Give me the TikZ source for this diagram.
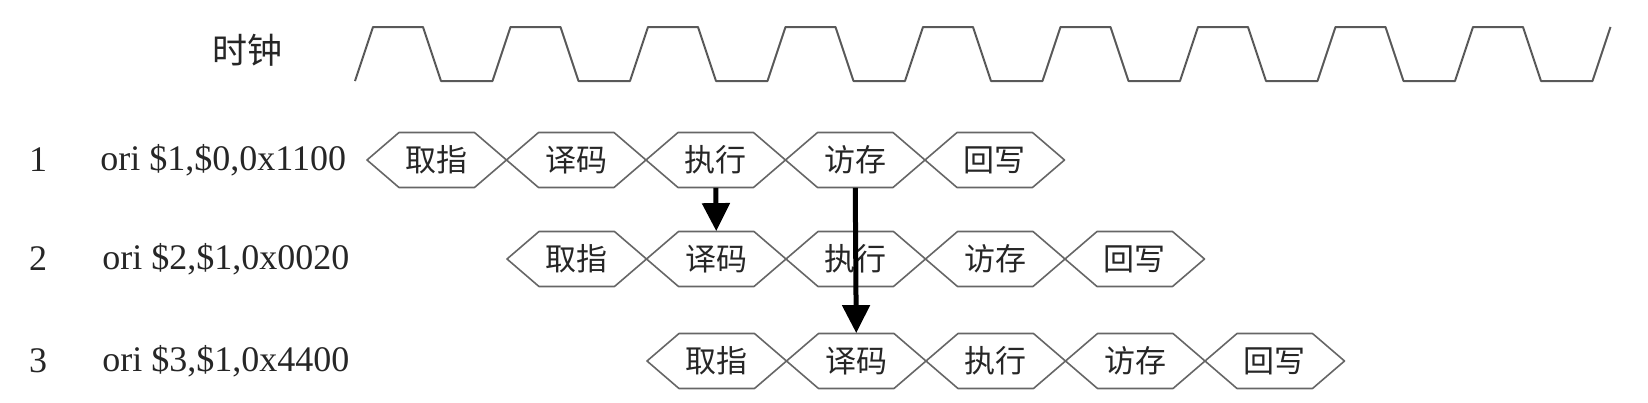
\documentclass[tikz,border=0pt]{standalone}
\usepackage{fontspec}
\setmainfont{Liberation Serif}
\newfontfamily\cjk{Noto Sans CJK SC}
\usetikzlibrary{arrows.meta}

\tikzset{
  wave/.style={draw=black!65, line width=1pt, line join=round},
  hexline/.style={draw=black!60, line width=0.8pt, line join=round},
  stagetext/.style={inner sep=0pt, minimum width=34.75pt, minimum height=27.5pt,
    font=\cjk\fontsize{15.5}{16}\selectfont, text=black!85},
  instr/.style={anchor=west, inner sep=0pt, font=\fontsize{18}{19}\selectfont, text=black!85},
  rownum/.style={inner sep=0pt, font=\fontsize{18}{19}\selectfont, text=black!85},
  fwd/.style={line width=2.5pt, -{Triangle[width=13.5pt,length=14pt]}}
}

\begin{document}
\begin{tikzpicture}[x=0.5pt,y=-0.5pt]
    \useasboundingbox (0,0) rectangle (1648,402);

    % clock
    \node[inner sep=0pt, font=\cjk\fontsize{17.5}{18}\selectfont, text=black!85] (clk) at (247,50) {时钟};
    \draw[wave] (355,81) \foreach \k in {0,...,8} {
        -- ++(18,-54) -- ++(50,0) -- ++(18,54) -- ++(51.5,0) } -- ++(18,-54);

    % pipeline rows
    \foreach \r/\s/\y/\x/\ins in {1/367/160/100/{ori \$1,\$0,0x1100},
                                  2/507/259/102/{ori \$2,\$1,0x0020},
                                  3/647/361/102/{ori \$3,\$1,0x4400}} {
        \node[rownum] (n\r) at (38,\y) {\r};
        \node[instr] (i\r) at (\x,\y) {\ins};
        \foreach \name [count=\j from 0] in {取指,译码,执行,访存,回写} {
            \draw[hexline] (\s+139.5*\j,\y) -- ++(32,-27.5) -- ++(75.5,0)
                -- ++(32,27.5) -- ++(-32,27.5) -- ++(-75.5,0) -- cycle;
            \node[stagetext] (s\r\j) at (\s+69.75+139.5*\j,\y) {\name};
        }
    }

    % forwarding
    \draw[fwd] (s12.south) -- (s21.north);
    \draw[fwd] (s13.south) -- (s31.north);
\end{tikzpicture}
\end{document}
